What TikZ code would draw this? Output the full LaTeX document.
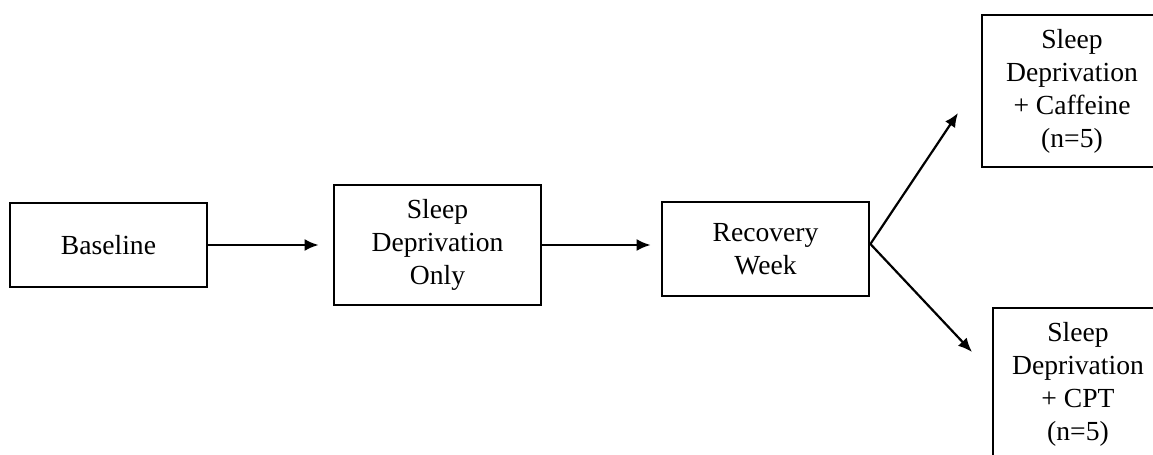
\documentclass[tikz,border=0pt]{standalone}
\usepackage{fontspec}
\setmainfont{Liberation Serif}
\usetikzlibrary{arrows.meta,positioning}

\tikzset{
  box/.style={draw,line width=1.4pt,inner sep=0pt,align=center,
    font=\fontsize{13.8}{16.5}\selectfont},
  link/.style={-{Latex[length=7pt,width=6pt]},line width=1.1pt}
}

\begin{document}
\begin{tikzpicture}[x=0.5pt,y=-0.5pt]
\useasboundingbox (0,0) rectangle (1153,455);
\clip (0,0) rectangle (1153,455);
% boxes
\node[box,minimum width=98.5pt,minimum height=42pt] (base) at (108.5,245) {Baseline};
\node[box,minimum width=103.5pt,minimum height=60pt] (sdo) at (437.5,245) {Sleep\\Deprivation\\Only};
\node[box,minimum width=103.5pt,minimum height=47pt] (rec) at (765.5,249) {Recovery\\Week};
\node[box,minimum width=90pt,minimum height=76pt] (caf) at (1072,91) {Sleep\\Deprivation\\+ Caffeine\\(n=5)};
\node[box,minimum width=85pt,minimum height=76pt] (cpt) at (1078,384) {Sleep\\Deprivation\\+ CPT\\(n=5)};
% arrows
\coordinate (fork) at ([yshift=2.5pt]rec.east);
\coordinate (tipA) at (958,113);
\coordinate (tipB) at (972,352);
\draw[link,shorten >=7pt] (base.east) -- (sdo.west);
\draw[link,shorten >=5pt] (sdo.east) -- (sdo.east -| rec.west);
\draw[link] (fork) -- (tipA);
\draw[link] (fork) -- (tipB);
\end{tikzpicture}
\end{document}
